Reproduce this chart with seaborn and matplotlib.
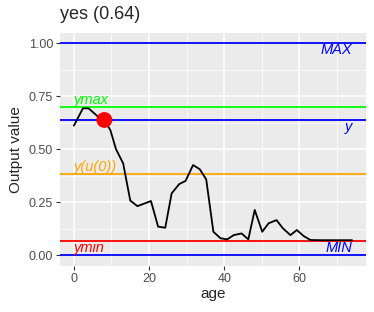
import numpy as np
import pandas as pd
import seaborn as sns
import matplotlib.pyplot as plt
from matplotlib.ticker import MultipleLocator

# data
age = [0, 2.4, 3.9, 6.2, 8.1, 9.7, 11.2, 13.1, 15, 16.9, 20.5, 22.4, 24.3, 26, 28,
       29.7, 31.7, 33.5, 35.2, 37.1, 39, 40.8, 42.5, 44.6, 46.4, 48.1, 50.1, 51.8,
       53.9, 55.6, 57.6, 59.3, 61.1, 62.9, 66, 70, 74]
output = [0.611, 0.693, 0.693, 0.657, 0.638, 0.59, 0.50, 0.433, 0.257, 0.231, 0.255,
          0.134, 0.129, 0.291, 0.335, 0.35, 0.425, 0.405, 0.357, 0.11, 0.079, 0.074,
          0.094, 0.102, 0.074, 0.213, 0.11, 0.15, 0.165, 0.126, 0.094, 0.118, 0.09,
          0.071, 0.07, 0.07, 0.07]
point_age = [8.1]
point_y = [0.638]

ref_names = ["MAX", "ymax", "y", "y(u(0))", "ymin", "MIN"]
ref_values = [1.0, 0.70, 0.638, 0.383, 0.068, 0.0]
ref_colors = ["#0000FF", "#00FF00", "#0000FF", "#FFA500", "#FF0000", "#0000FF"]
ref_side = ["right", "left", "right", "left", "left", "right"]
ref_va = ["top", "bottom", "top", "bottom", "top", "bottom"]

df = pd.DataFrame({"age": age, "output": output})
df_pt = pd.DataFrame({"age": point_age, "output": point_y})

sns.set_theme(style="darkgrid", rc={
    "axes.facecolor": "#EBEBEB",
    "grid.color": "white",
    "xtick.color": "#4D4D4D",
    "ytick.color": "#4D4D4D",
})
plt.rcParams['font.family'] = ['Liberation Sans', 'DejaVu Sans']

fig = plt.figure(figsize=(3.74, 3.12), dpi=100)
ax = fig.add_axes([0.1604, 0.1487, 0.8182, 0.7463])

xmin, xmax = min(age), max(age)
for name, val, col, side, va in zip(ref_names, ref_values, ref_colors, ref_side, ref_va):
    ax.axhline(val, color=col, lw=1.3, zorder=2)
    if side == "left":
        ax.text(xmin, val, name, color=col, style="italic", fontsize=10.5,
                ha="left", va=va, zorder=3)
    else:
        ax.text(xmax, val, name, color=col, style="italic", fontsize=10.5,
                ha="right", va=va, zorder=3)

sns.lineplot(data=df, x="age", y="output", color="black", lw=1.3, ax=ax, zorder=4)
sns.scatterplot(data=df_pt, x="age", y="output", color="red", s=130,
                edgecolor="none", ax=ax, zorder=5)

ax.set_xlim(-3.7, 77.7)
ax.set_ylim(-0.05, 1.05)
ax.set_xticks([0, 20, 40, 60])
ax.set_yticks([0, 0.25, 0.5, 0.75, 1.0])
ax.set_yticklabels(["0.00", "0.25", "0.50", "0.75", "1.00"])
ax.xaxis.set_minor_locator(MultipleLocator(10))
ax.yaxis.set_minor_locator(MultipleLocator(0.125))
ax.grid(which="major", color="white", lw=1.1)
ax.grid(which="minor", color="white", lw=0.5)
ax.tick_params(axis="both", which="major", length=3, width=0.8, labelsize=9,
               bottom=True, left=True, color="#333333", pad=2)
ax.tick_params(axis="both", which="minor", length=0)
for s in ax.spines.values():
    s.set_visible(False)

ax.set_xlabel("age", fontsize=11, labelpad=2)
ax.set_ylabel("Output value", fontsize=11, labelpad=4)
fig.text(0.1604, 0.955, "yes (0.64)", fontsize=13, ha="left", va="center")

plt.savefig("out.png", dpi=100)
plt.close()
